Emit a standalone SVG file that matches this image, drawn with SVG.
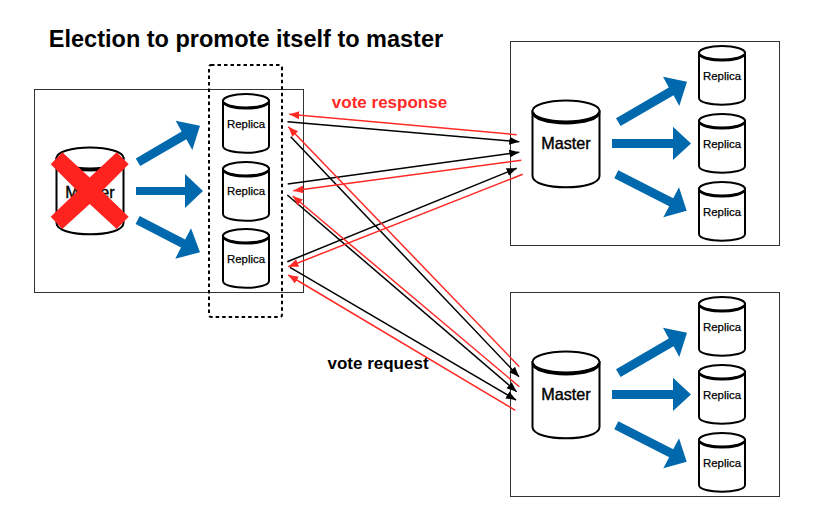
<svg xmlns="http://www.w3.org/2000/svg" xmlns:xlink="http://www.w3.org/1999/xlink" width="824" height="527" viewBox="0 0 824 527">
<style>
text{font-family:"Liberation Sans",Arial,sans-serif;text-anchor:middle}
.box{fill:none;stroke:#333;stroke-width:1}
.body{fill:#fff;stroke:#000;stroke-width:2}
.rim{fill:none;stroke:#000;stroke-width:3}
.blue{fill:#0069ae}
.rep{font-size:11.4px;fill:#000;stroke:#000;stroke-width:.25}
.mas{font-size:16.2px;fill:#000;stroke:#000;stroke-width:.4}
.lab{font-size:17px;font-weight:bold}
.k{fill:none;stroke:#000;stroke-width:1.5;marker-end:url(#ak)}
.r{fill:none;stroke:#ff2a26;stroke-width:1.5;marker-end:url(#ar)}
</style>
<defs>
<marker id="ak" markerUnits="userSpaceOnUse" markerWidth="11" markerHeight="10" refX="10" refY="5" orient="auto"><path d="M0 1L10 5L0 9z" fill="#000"/></marker>
<marker id="ar" markerUnits="userSpaceOnUse" markerWidth="11" markerHeight="10" refX="10" refY="5" orient="auto"><path d="M0 1L10 5L0 9z" fill="#ff2a26"/></marker>
<g id="cyl">
<path class="body" d="M0 7.500C0 3 46 3 46 7.500V53C46 62 0 62 0 53z" transform="translate(0,-1)"/>
<path class="body" d="M0 7A23 7 0 0 1 46 7A23 7 0 0 1 0 7z"/>
<path class="rim" d="M0.500 8.500A23 7 0 0 0 45.500 8.500" fill="none"/>
</g>
<g id="mcyl">
<path class="body" d="M0 11V76C0 91 67 91 67 76V11z"/>
<path class="body" d="M0 11A33.500 10.500 0 0 1 67 11A33.500 10.500 0 0 1 0 11z"/>
<path class="rim" d="M0.500 12.500A33 10.500 0 0 0 66.500 12.500"/>
</g>
<g id="fan">
<polygon class="blue" points="616,118.300 620.600,126 673.600,95.200 679.300,106 687,81.700 663,76.700 668.800,87.500"/>
<polygon class="blue" points="612,139 673,139 673,126.700 691,143.500 673,160 673,148 612,148"/>
<polygon class="blue" points="618.300,170.300 614.300,178.300 669.200,206.300 663.300,217.300 686.700,210.700 679,187.300 673.200,198.300"/>
</g>
</defs>
<text x="246" y="46.500" style="font-size:23.500px;font-weight:bold" fill="#000">Election to promote itself to master</text>
<rect class="box" x="34.500" y="89.500" width="269" height="203"/>
<rect class="box" x="510.500" y="41.500" width="269" height="204"/>
<rect class="box" x="510.500" y="292.500" width="269" height="204"/>
<g id="left-fan">
<polygon class="blue" points="135.800,158.500 140.200,166.100 186.400,139.200 192.300,150 200,125.700 175.700,120.700 181.600,131.500"/>
<polygon class="blue" points="136,187 185,187 185,174 203,191 185,208 185,195 136,195"/>
<polygon class="blue" points="139.700,216.100 135.600,223.900 181,247.400 175.300,258.700 200,252.300 191,228.300 185.200,239.600"/>
</g>
<use href="#fan"/>
<use href="#fan" transform="translate(0,251)"/>
<g id="left-master"><use href="#mcyl" transform="translate(56.500,147)"/><text class="mas" x="90" y="198">Master</text></g>
<g id="left-replica-1"><use href="#cyl" transform="translate(223,94)"/><text class="rep" x="246" y="128">Replica</text></g>
<g id="left-replica-2"><use href="#cyl" transform="translate(223,162)"/><text class="rep" x="246" y="195">Replica</text></g>
<g id="left-replica-3"><use href="#cyl" transform="translate(223,229)"/><text class="rep" x="246" y="263">Replica</text></g>
<g id="top-master"><use href="#mcyl" transform="translate(532.500,100)"/><text class="mas" x="566" y="149">Master</text></g>
<g id="top-replica-1"><use href="#cyl" transform="translate(699,46)"/><text class="rep" x="722" y="80">Replica</text></g>
<g id="top-replica-2"><use href="#cyl" transform="translate(699,114)"/><text class="rep" x="722" y="148">Replica</text></g>
<g id="top-replica-3"><use href="#cyl" transform="translate(699,182)"/><text class="rep" x="722" y="216">Replica</text></g>
<g id="bottom-master"><use href="#mcyl" transform="translate(532.500,351)"/><text class="mas" x="566" y="400">Master</text></g>
<g id="bottom-replica-1"><use href="#cyl" transform="translate(699,297)"/><text class="rep" x="722" y="331">Replica</text></g>
<g id="bottom-replica-2"><use href="#cyl" transform="translate(699,365)"/><text class="rep" x="722" y="399">Replica</text></g>
<g id="bottom-replica-3"><use href="#cyl" transform="translate(699,433)"/><text class="rep" x="722" y="467">Replica</text></g>
<polygon id="cross" fill="#ff2320" points="50.700,164.300 62.300,152.300 89.700,177.500 116.700,152.300 128.700,164.300 102,191 128.700,216.700 116.700,229 89.700,204 62.300,229 50.700,216.700 77.500,191"/>
<rect id="candidates" x="209" y="65" width="73" height="252" rx="2" fill="none" stroke="#000" stroke-width="2" stroke-dasharray="3.500 3"/>
<g id="connectors">
<line class="k" x1="287.500" y1="121.700" x2="519.300" y2="141.700"/>
<line class="k" x1="287.700" y1="184" x2="519.300" y2="152.300"/>
<line class="k" x1="287.300" y1="261.700" x2="516.700" y2="168.300"/>
<line class="k" x1="290.700" y1="136.700" x2="519" y2="376.700"/>
<line class="k" x1="287.300" y1="195" x2="516.700" y2="391.700"/>
<line class="k" x1="290" y1="267.300" x2="516" y2="400"/>
<line class="r" x1="516.700" y1="134.700" x2="289.300" y2="114.300"/>
<line class="r" x1="521.300" y1="160.300" x2="293.300" y2="190.700"/>
<line class="r" x1="522.700" y1="174.300" x2="288.300" y2="266.700"/>
<line class="r" x1="519.300" y1="366.700" x2="288.300" y2="126.700"/>
<line class="r" x1="519.300" y1="386.700" x2="292.700" y2="196"/>
<line class="r" x1="515.300" y1="410.300" x2="288.300" y2="275"/>
</g>
<text class="lab" x="389.500" y="108" fill="#ff2a26">vote response</text>
<text class="lab" x="378" y="369" fill="#000">vote request</text>
</svg>
